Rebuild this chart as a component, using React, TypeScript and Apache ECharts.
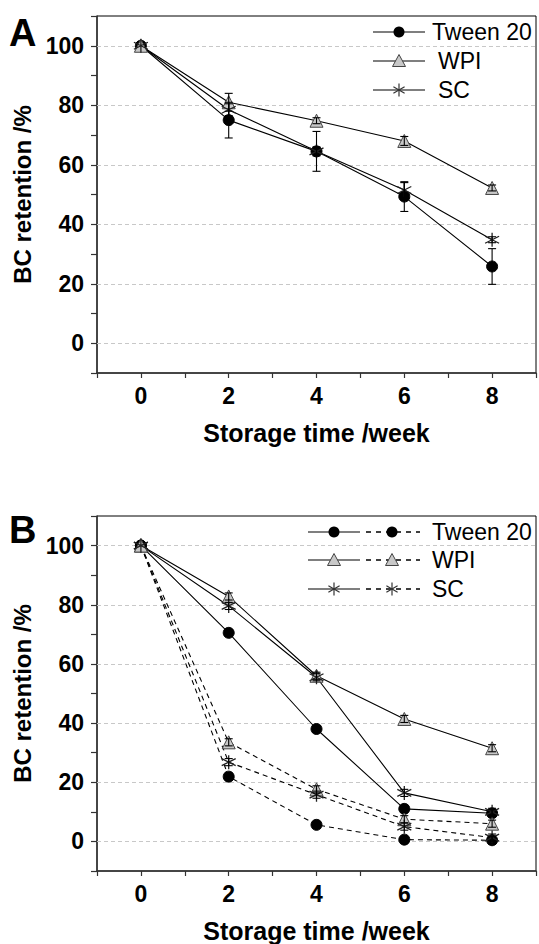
import React, { useEffect, useRef } from "react";
import * as echarts from "echarts";

const weeks = [0, 2, 4, 6, 8];
const yGridTicks = [0, 20, 40, 60, 80, 100];

// Panel A
const tweenA = [100, 75, 64.5, 49.3, 25.8];
const tweenAErr = [0, 6, 6.7, 5, 6];
const wpiA = [100, 81, 74.8, 68, 52.2];
const wpiAErr = [0, 3, 1, 1.5, 1];
const scA = [100, 78.5, 64.5, 51.5, 34.8];
const scAErr = [0, 2, 1.5, 2.5, 1];

// Panel B (solid)
const tweenB1 = [100, 70.5, 38, 11, 9.5];
const wpiB1 = [100, 82.8, 56, 41.4, 31.5];
const scB1 = [100, 79.6, 55.5, 16.4, 10];
// Panel B (dashed)
const tweenB2 = [100, 21.9, 5.6, 0.6, 0.4];
const wpiB2 = [100, 33.5, 17.6, 7.5, 6];
const scB2 = [100, 26.8, 15.8, 5, 1.3];
const bErr = [0, 1.2, 1.2, 1.2, 1.2];

const legendNames = ["Tween 20", "WPI", "SC"];

const FONT = '"Liberation Sans", Arial, sans-serif';
const ASTERISK = "path://M5 0L5 10M0.67 2.5L9.33 7.5M0.67 7.5L9.33 2.5";

const markerStyles: any = {
  tween: { symbol: "circle", symbolSize: 11, itemStyle: { color: "#000", borderColor: "#000", borderWidth: 1 } },
  wpi: { symbol: "triangle", symbolSize: 13, itemStyle: { color: "#c8c8c8", borderColor: "#444", borderWidth: 1 } },
  sc: { symbol: ASTERISK, symbolSize: 14, itemStyle: { color: "rgba(0,0,0,0)", borderColor: "#222", borderWidth: 1.3 } },
};

function pairs(vals: number[]) {
  return weeks.map((w, i) => [w, vals[i]]);
}

function lineSeries(name: string, kind: string, vals: number[], idx: number, dashed: boolean, extra: any = {}) {
  return {
    name,
    type: "line",
    xAxisIndex: idx,
    yAxisIndex: idx,
    data: pairs(vals),
    ...markerStyles[kind],
    lineStyle: { color: "#000", width: 1.1, type: dashed ? [5, 4] : "solid" },
    z: 2,
    ...extra,
  };
}

function errRender(params: any, api: any) {
  const x = api.value(0);
  const lo = api.value(1);
  const hi = api.value(2);
  const p1 = api.coord([x, lo]);
  const p2 = api.coord([x, hi]);
  const w = 4;
  const st = { stroke: "#000", lineWidth: 1.1 };
  return {
    type: "group",
    children: [
      { type: "line", shape: { x1: p1[0], y1: p1[1], x2: p2[0], y2: p2[1] }, style: st },
      { type: "line", shape: { x1: p1[0] - w, y1: p1[1], x2: p1[0] + w, y2: p1[1] }, style: st },
      { type: "line", shape: { x1: p2[0] - w, y1: p2[1], x2: p2[0] + w, y2: p2[1] }, style: st },
    ],
  };
}

function errSeries(vals: number[], errs: number[], idx: number) {
  const data = weeks
    .map((w, i) => [w, vals[i] - errs[i], vals[i] + errs[i], errs[i]])
    .filter((d) => d[3] > 0);
  return {
    type: "custom",
    xAxisIndex: idx,
    yAxisIndex: idx,
    renderItem: errRender,
    encode: { x: 0, y: [1, 2] },
    data,
    z: 4,
    silent: true,
  };
}

function gridMark() {
  return {
    silent: true,
    symbol: "none",
    z: 1,
    label: { show: false },
    lineStyle: { color: "#c8c8c8", type: [4, 3], width: 1 },
    data: yGridTicks.map((v) => ({ yAxis: v })),
  };
}

function xAxis(idx: number) {
  return {
    type: "value",
    gridIndex: idx,
    min: -1,
    max: 9,
    interval: 1,
    name: "Storage time /week",
    nameLocation: "middle",
    nameGap: 47,
    nameTextStyle: { fontFamily: FONT, fontSize: 25, fontWeight: "bold", color: "#000" },
    axisLine: { show: true, onZero: false, lineStyle: { color: "#333", width: 1.5 } },
    axisTick: { show: true, inside: false, length: 5, lineStyle: { color: "#333", width: 1.2 } },
    axisLabel: {
      margin: 11,
      fontFamily: FONT,
      fontSize: 23,
      fontWeight: "bold",
      color: "#000",
      formatter: (v: number) => (weeks.indexOf(v) >= 0 ? String(v) : ""),
    },
    splitLine: { show: false },
  };
}

function yAxis(idx: number) {
  return {
    type: "value",
    gridIndex: idx,
    min: -10,
    max: 110,
    interval: 10,
    name: "BC retention /%",
    nameLocation: "middle",
    nameGap: 60,
    nameTextStyle: { fontFamily: FONT, fontSize: 24, fontWeight: "bold", color: "#000" },
    axisLine: { show: true, onZero: false, lineStyle: { color: "#333", width: 1.5 } },
    axisTick: { show: true, inside: false, length: 6, lineStyle: { color: "#333", width: 1.2 } },
    axisLabel: {
      margin: 13,
      fontFamily: FONT,
      fontSize: 23,
      fontWeight: "bold",
      color: "#000",
      formatter: (v: number) => (yGridTicks.indexOf(v) >= 0 ? String(v) : ""),
    },
    splitLine: { show: false },
  };
}

function markerGraphic(kind: string, cx: number, cy: number): any {
  if (kind === "tween") {
    return { type: "circle", shape: { cx, cy, r: 5.5 }, style: { fill: "#000" } };
  }
  if (kind === "wpi") {
    return {
      type: "polygon",
      shape: { points: [[cx, cy - 6.5], [cx - 6.5, cy + 5.5], [cx + 6.5, cy + 5.5]] },
      style: { fill: "#c8c8c8", stroke: "#444", lineWidth: 1 },
    };
  }
  const st = { stroke: "#333", lineWidth: 1.2 };
  return {
    type: "group",
    children: [
      { type: "line", shape: { x1: cx, y1: cy - 6.5, x2: cx, y2: cy + 6.5 }, style: st },
      { type: "line", shape: { x1: cx - 5.6, y1: cy - 3.3, x2: cx + 5.6, y2: cy + 3.3 }, style: st },
      { type: "line", shape: { x1: cx - 5.6, y1: cy + 3.3, x2: cx + 5.6, y2: cy - 3.3 }, style: st },
    ],
  };
}

const kinds = ["tween", "wpi", "sc"];

function legendGraphics(): any[] {
  const els: any[] = [];
  const rowsA = [32, 61, 90];
  kinds.forEach((k, i) => {
    const y = rowsA[i];
    els.push({ type: "line", shape: { x1: 373, y1: y, x2: 425, y2: y }, style: { stroke: "#000", lineWidth: 1.1 } });
    els.push(markerGraphic(k, 399, y));
    els.push({
      type: "text",
      x: i === 0 ? 432 : 438,
      y,
      style: { text: legendNames[i], font: `23px ${FONT}`, fill: "#000", textVerticalAlign: "middle", textAlign: "left" },
    });
  });
  const rowsB = [532, 560, 589];
  kinds.forEach((k, i) => {
    const y = rowsB[i];
    els.push({ type: "line", shape: { x1: 308, y1: y, x2: 360, y2: y }, style: { stroke: "#000", lineWidth: 1.1 } });
    els.push(markerGraphic(k, 334, y));
    els.push({
      type: "line",
      shape: { x1: 366, y1: y, x2: 420, y2: y },
      style: { stroke: "#000", lineWidth: 1.3, lineDash: [5, 5] },
    });
    els.push(markerGraphic(k, 392, y));
    els.push({
      type: "text",
      x: 432,
      y,
      style: { text: legendNames[i], font: `23px ${FONT}`, fill: "#000", textVerticalAlign: "middle", textAlign: "left" },
    });
  });
  els.push({
    type: "text",
    x: 9,
    y: 33,
    style: { text: "A", font: `bold 38px ${FONT}`, fill: "#000", textVerticalAlign: "middle" },
  });
  els.push({
    type: "text",
    x: 9,
    y: 530,
    style: { text: "B", font: `bold 38px ${FONT}`, fill: "#000", textVerticalAlign: "middle" },
  });
  return els;
}

export default function App() {
  const ref = useRef<HTMLDivElement>(null);
  useEffect(() => {
    document.body.style.margin = "0";
    if (!ref.current) return;
    const chart = echarts.init(ref.current, null, { renderer: "svg" });
    const option: any = {
      animation: false,
      backgroundColor: "#fff",
      textStyle: { fontFamily: FONT },
      grid: [
        { left: 97, top: 16, width: 441, height: 357, show: true, borderColor: "#000", borderWidth: 1, backgroundColor: "transparent" },
        { left: 97, top: 516, width: 441, height: 357, show: true, borderColor: "#000", borderWidth: 1, backgroundColor: "transparent" },
      ],
      xAxis: [xAxis(0), xAxis(1)],
      yAxis: [yAxis(0), yAxis(1)],
      series: [
        lineSeries("Tween 20", "tween", tweenA, 0, false, { markLine: gridMark() }),
        lineSeries("WPI", "wpi", wpiA, 0, false),
        lineSeries("SC", "sc", scA, 0, false),
        errSeries(tweenA, tweenAErr, 0),
        errSeries(wpiA, wpiAErr, 0),
        errSeries(scA, scAErr, 0),
        lineSeries("Tween 20 solid", "tween", tweenB1, 1, false, { markLine: gridMark() }),
        lineSeries("WPI solid", "wpi", wpiB1, 1, false),
        lineSeries("SC solid", "sc", scB1, 1, false),
        lineSeries("Tween 20 dashed", "tween", tweenB2, 1, true),
        lineSeries("WPI dashed", "wpi", wpiB2, 1, true),
        lineSeries("SC dashed", "sc", scB2, 1, true),
        errSeries(tweenB1, bErr, 1),
        errSeries(wpiB1, bErr, 1),
        errSeries(scB1, bErr, 1),
        errSeries(tweenB2, bErr, 1),
        errSeries(wpiB2, bErr, 1),
        errSeries(scB2, bErr, 1),
      ],
      graphic: legendGraphics(),
    };
    chart.setOption(option);
    return () => chart.dispose();
  }, []);
  return <div ref={ref} style={{ width: 539, height: 944 }} />;
}
